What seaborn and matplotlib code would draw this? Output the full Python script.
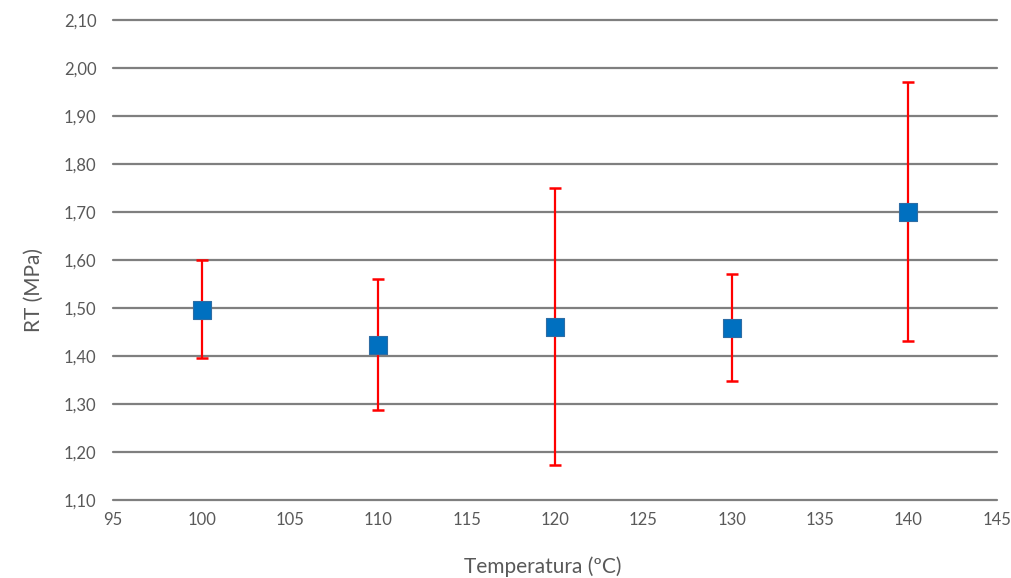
import matplotlib
matplotlib.use("Agg")
import matplotlib.pyplot as plt
import seaborn as sns
import pandas as pd
import numpy as np

temperatura = [100, 110, 120, 130, 140]
rt_mean = [1.497, 1.422, 1.460, 1.458, 1.701]
rt_upper = [1.601, 1.561, 1.751, 1.570, 1.971]
rt_lower = [1.396, 1.287, 1.172, 1.349, 1.432]

yticks = [1.10, 1.20, 1.30, 1.40, 1.50, 1.60, 1.70, 1.80, 1.90, 2.00, 2.10]
xticks = [95, 100, 105, 110, 115, 120, 125, 130, 135, 140, 145]

df = pd.DataFrame({"Temperatura": temperatura, "RT": rt_mean})

sns.set_theme(style="white")
plt.rcParams['font.family'] = ['Lato', 'DejaVu Sans']

fig = plt.figure(figsize=(10.11, 5.78), dpi=100)
ax = fig.add_axes([0.112, 0.135, 0.874, 0.830])

for y in yticks:
    ax.axhline(y, color="#7f7f7f", lw=1.6, zorder=1, clip_on=False)

err_lo = np.array(rt_mean) - np.array(rt_lower)
err_hi = np.array(rt_upper) - np.array(rt_mean)
ax.errorbar(temperatura, rt_mean, yerr=[err_lo, err_hi], fmt="none",
            ecolor="#ff0000", elinewidth=1.6, capsize=4.5, capthick=1.8, zorder=2)

sns.scatterplot(data=df, x="Temperatura", y="RT", marker="s", s=160,
                color="#0070c0", edgecolor="#2e6da4", linewidth=0.8, zorder=3, ax=ax)

ax.set_xlim(95, 145)
ax.set_ylim(1.10, 2.10)
ax.set_xticks(xticks)
ax.set_yticks(yticks)
ax.set_yticklabels([f"{v:.2f}".replace(".", ",") for v in yticks])
ax.tick_params(axis="both", labelsize=12, colors="#595959", length=0)
ax.tick_params(axis="y", pad=12)
ax.tick_params(axis="x", pad=9)
for s in ax.spines.values():
    s.set_visible(False)
ax.grid(False)

ax.set_xlabel("Temperatura (ºC)", fontsize=15, color="#595959")
ax.set_ylabel("RT (MPa)", fontsize=15, color="#595959")
ax.xaxis.set_label_coords(0.486, -0.118)
ax.yaxis.set_label_coords(-0.079, 0.4375)

fig.savefig("out.png", dpi=100)
